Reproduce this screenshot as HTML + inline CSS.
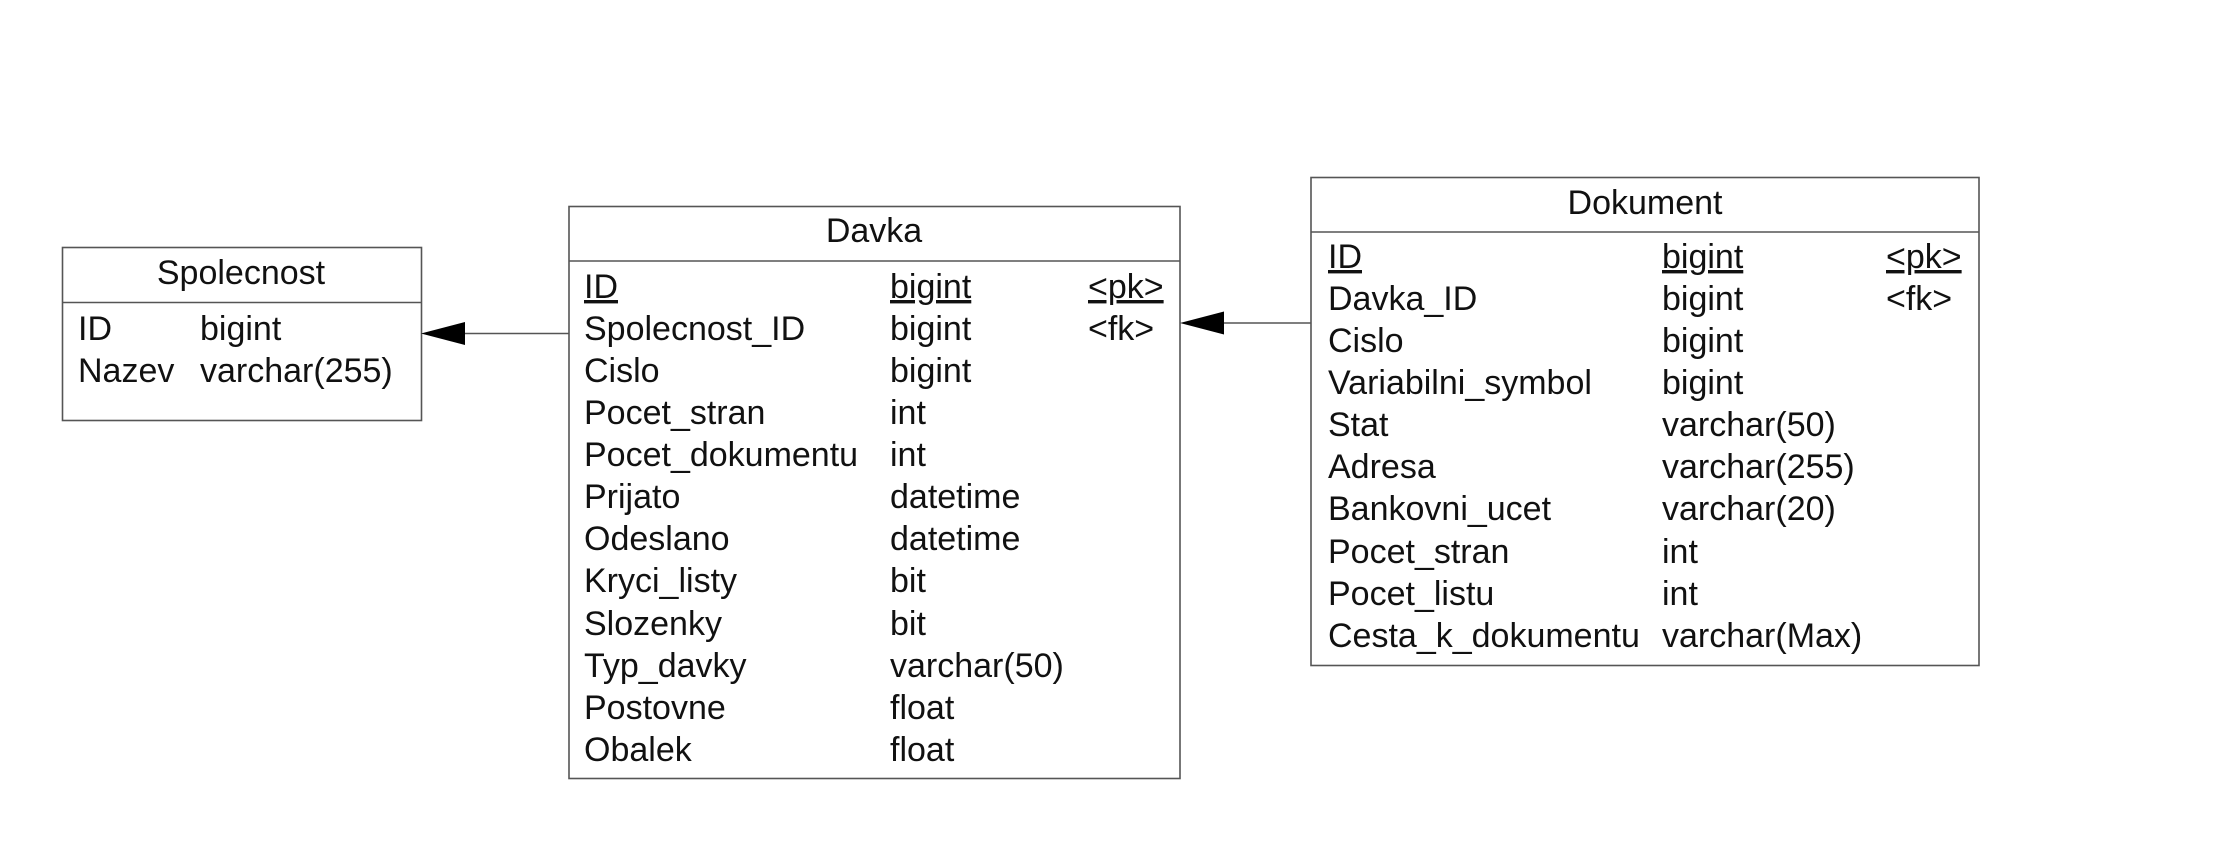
<!DOCTYPE html>
<html><head><meta charset="utf-8"><style>
html,body{margin:0;padding:0;background:#fff;}
svg{display:block;}
text{font-family:"Liberation Sans",Arial,sans-serif;font-size:34px;fill:#111;}
.u{text-decoration:underline;}
</style></head><body>
<svg width="2224" height="860" viewBox="0 0 2224 860" xmlns="http://www.w3.org/2000/svg">
<g fill="none" stroke="#555" stroke-width="1.6">
<rect x="62.5" y="247.5" width="359" height="173"/>
<line x1="62" y1="302.5" x2="421" y2="302.5"/>
<rect x="569" y="206.5" width="611" height="572"/>
<line x1="569" y1="261" x2="1180" y2="261"/>
<rect x="1311" y="177.5" width="668" height="488"/>
<line x1="1311" y1="232" x2="1979" y2="232"/>
<line x1="464" y1="333.5" x2="569" y2="333.5"/>
<line x1="1224" y1="323" x2="1311" y2="323"/>
</g>
<polygon points="421,333.5 465,322 465,345" fill="#000"/>
<polygon points="1180,323 1224,311.5 1224,334.5" fill="#000"/>

<text x="241" y="284" text-anchor="middle">Spolecnost</text>
<text x="78" y="340">ID</text><text x="200" y="340">bigint</text>
<text x="78" y="382">Nazev</text><text x="200" y="382">varchar(255)</text>

<text x="874" y="242" text-anchor="middle">Davka</text>
<g>
<text x="584" y="298" class="u">ID</text><text x="890" y="298" class="u">bigint</text><text x="1088" y="298" class="u">&lt;pk&gt;</text>
<text x="584" y="340">Spolecnost_ID</text><text x="890" y="340">bigint</text><text x="1088" y="340">&lt;fk&gt;</text>
<text x="584" y="382">Cislo</text><text x="890" y="382">bigint</text>
<text x="584" y="424">Pocet_stran</text><text x="890" y="424">int</text>
<text x="584" y="466">Pocet_dokumentu</text><text x="890" y="466">int</text>
<text x="584" y="508">Prijato</text><text x="890" y="508">datetime</text>
<text x="584" y="550">Odeslano</text><text x="890" y="550">datetime</text>
<text x="584" y="592">Kryci_listy</text><text x="890" y="592">bit</text>
<text x="584" y="635">Slozenky</text><text x="890" y="635">bit</text>
<text x="584" y="677">Typ_davky</text><text x="890" y="677">varchar(50)</text>
<text x="584" y="719">Postovne</text><text x="890" y="719">float</text>
<text x="584" y="761">Obalek</text><text x="890" y="761">float</text>
</g>

<text x="1645" y="214" text-anchor="middle">Dokument</text>
<g>
<text x="1328" y="268" class="u">ID</text><text x="1662" y="268" class="u">bigint</text><text x="1886" y="268" class="u">&lt;pk&gt;</text>
<text x="1328" y="310">Davka_ID</text><text x="1662" y="310">bigint</text><text x="1886" y="310">&lt;fk&gt;</text>
<text x="1328" y="352">Cislo</text><text x="1662" y="352">bigint</text>
<text x="1328" y="394">Variabilni_symbol</text><text x="1662" y="394">bigint</text>
<text x="1328" y="436">Stat</text><text x="1662" y="436">varchar(50)</text>
<text x="1328" y="478">Adresa</text><text x="1662" y="478">varchar(255)</text>
<text x="1328" y="520">Bankovni_ucet</text><text x="1662" y="520">varchar(20)</text>
<text x="1328" y="563">Pocet_stran</text><text x="1662" y="563">int</text>
<text x="1328" y="605">Pocet_listu</text><text x="1662" y="605">int</text>
<text x="1328" y="647">Cesta_k_dokumentu</text><text x="1662" y="647">varchar(Max)</text>
</g>
</svg>
</body></html>
